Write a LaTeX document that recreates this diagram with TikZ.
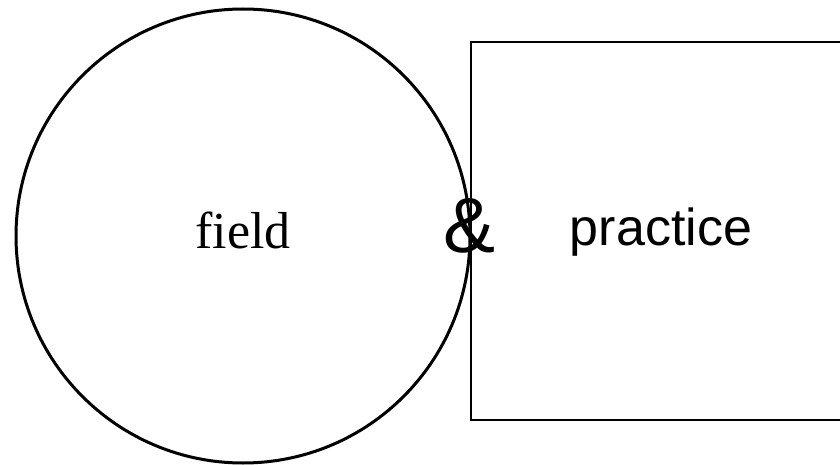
\documentclass[tikz,border=0pt]{standalone}
\usepackage{fontspec}
\setmainfont{Liberation Serif}
\newfontfamily\arialf{Liberation Sans}
\begin{document}
\begin{tikzpicture}[x=1pt,y=-1pt,
  ring/.style={draw=black,line width=3pt,circle,minimum size=454pt,inner sep=0pt},
  box/.style={draw=black,line width=1.5pt},
  lbl/.style={inner sep=0pt,anchor=base}]
\useasboundingbox (0,0) rectangle (840,465);
\node[ring] (field) at (243,236) {};
\draw[box] (860,42) -- (471,42) -- (471,420) -- (860,420);
\node[lbl,font=\fontsize{52}{60}\selectfont] (ft) at (243,248) {field};
\node[lbl,font=\arialf\fontsize{52}{60}\selectfont] (pt) at (661,245) {practice};
\node[lbl,font=\arialf\fontsize{78}{90}\selectfont] (amp) at (470,252) {\&};
\end{tikzpicture}
\end{document}
